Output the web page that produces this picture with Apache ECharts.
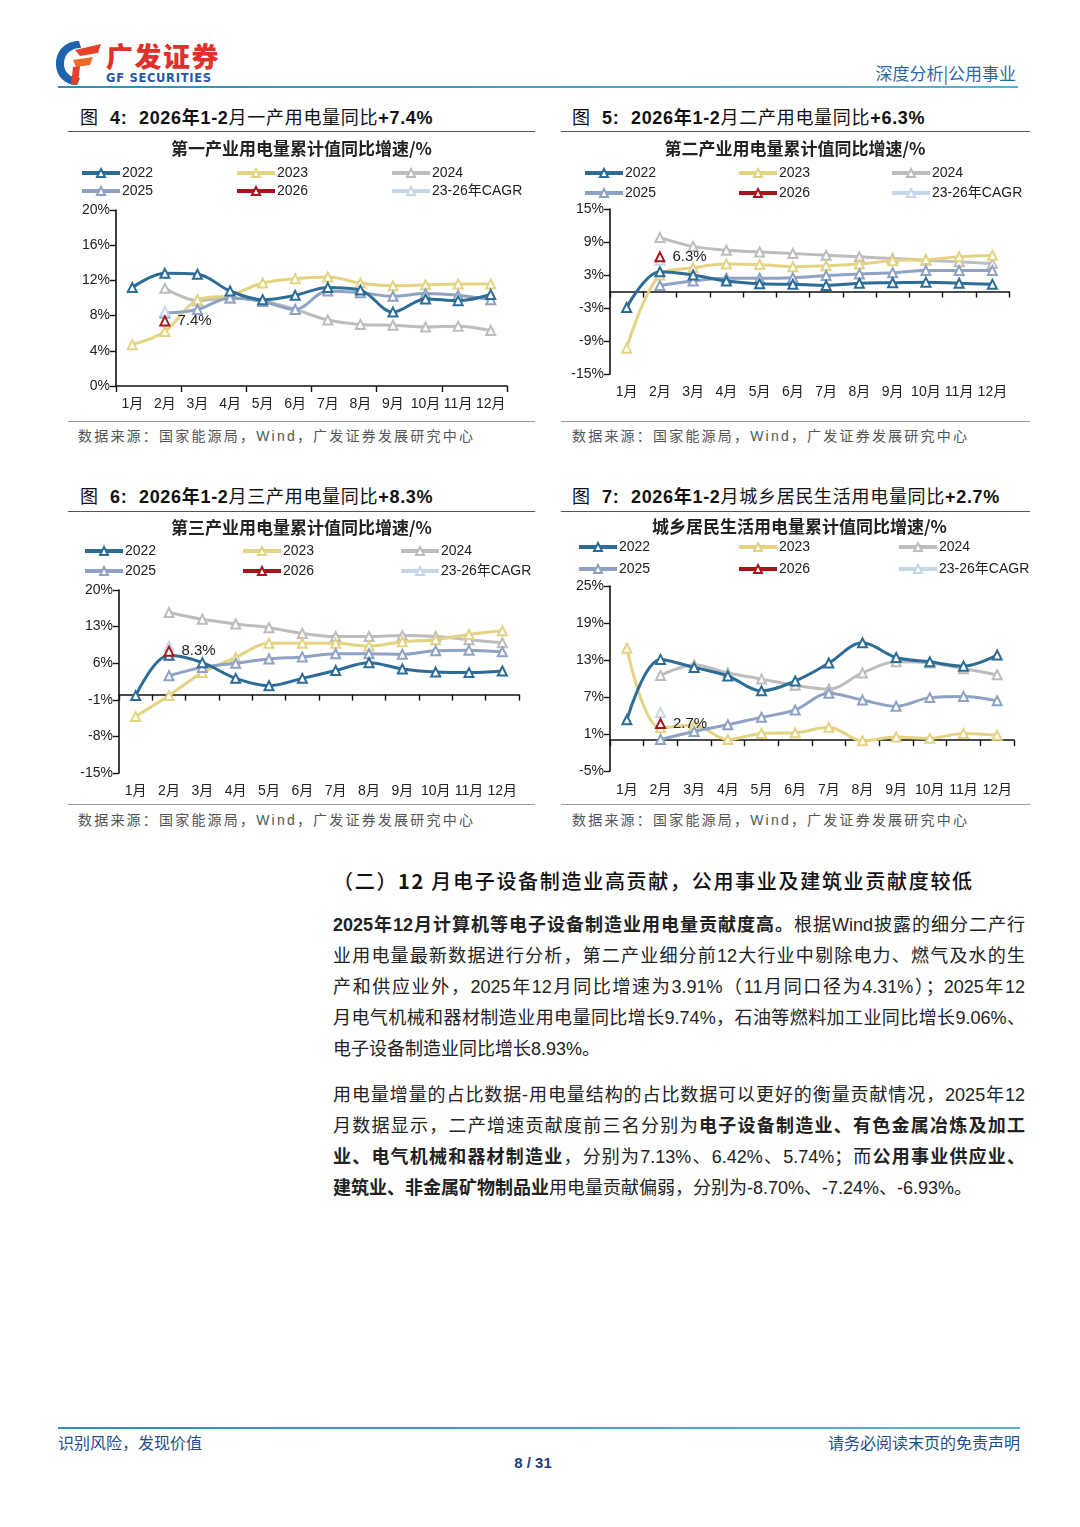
<!DOCTYPE html>
<html>
<head>
<meta charset="utf-8">
<script src="https://cdn.jsdelivr.net/npm/echarts@6/dist/echarts.min.js"></script>
<style>
html,body{margin:0;padding:0;background:#fff;}
#page{position:relative;width:1080px;height:1527px;overflow:hidden;background:#fff;font-family:"Liberation Sans","Noto Sans CJK SC",sans-serif;color:#222;}
.abs{position:absolute;}
.figt{position:absolute;font-size:18px;line-height:24px;white-space:nowrap;color:#111;letter-spacing:0.7px;}
.figt b{font-weight:700;}
.rule{position:absolute;height:0;border-top:1.5px solid #555;}
.srule{position:absolute;height:0;border-top:1px solid #9a9a9a;}
.src{position:absolute;font-size:14px;line-height:20px;color:#555;letter-spacing:2.2px;white-space:nowrap;}
.chart{position:absolute;}
.para{position:absolute;left:333px;width:692px;font-size:18px;color:#222;}
.para div{height:31px;line-height:31px;white-space:nowrap;text-align:justify;text-align-last:justify;}
.para div.last{text-align-last:left;}
.para b{font-weight:700;}
</style>
</head>
<body>
<div id="page">
  <!-- header -->
  <svg class="abs" style="left:53px;top:38px" width="52" height="50" viewBox="0 0 52 50">
    <path d="M26 3 C12 3 3 13 3 26 C3 38 12 47 24 47 L27 40 C17 40 11 34 11 26 C11 16 18 10 28 10 Z" fill="#1d63b0"/>
    <path d="M22 12 L48 6 L45 15 L27 18 Z" fill="#e8402a"/>
    <path d="M20 22 L40 19 L37 27 L23 29 Z" fill="#ef6a2a"/>
    <path d="M20 29 L27 28 L25 46 L18 47 Z" fill="#e8402a"/>
  </svg>
  <div class="abs" style="left:106px;top:40px;font-size:27px;font-weight:900;color:#e0302a;letter-spacing:1.5px;line-height:32px;font-family:'Noto Sans CJK SC';">广发证券</div>
  <div class="abs" style="left:106px;top:71px;font-size:11.5px;font-weight:900;color:#1d5aa8;letter-spacing:0.7px;line-height:14px;font-family:'DejaVu Sans';">GF SECURITIES</div>
  <div class="abs" style="right:64px;top:62px;font-size:17px;color:#2b6a9e;line-height:22px;font-family:'Noto Sans CJK SC';">深度分析|公用事业</div>
  <div class="abs" style="left:58px;top:86px;width:960px;height:2px;background:linear-gradient(90deg,#2f8fb8,#5cb3cf);"></div>

  <!-- figure 4 -->
  <div class="figt" style="left:80px;top:106px">图&nbsp; <b>4:</b>&nbsp; <b>2026年1-2</b>月一产用电量同比<b>+7.4%</b></div>
  <div class="rule" style="left:68px;top:131px;width:467px"></div>
  <div id="c1" class="chart" style="left:68px;top:135px;width:467px;height:285px"></div>
  <div class="srule" style="left:68px;top:421px;width:467px"></div>
  <div class="src" style="left:78px;top:426px">数据来源：国家能源局，Wind，广发证券发展研究中心</div>

  <!-- figure 5 -->
  <div class="figt" style="left:572px;top:106px">图&nbsp; <b>5:</b>&nbsp; <b>2026年1-2</b>月二产用电量同比<b>+6.3%</b></div>
  <div class="rule" style="left:561px;top:131px;width:469px"></div>
  <div id="c2" class="chart" style="left:560px;top:135px;width:470px;height:285px"></div>
  <div class="srule" style="left:561px;top:421px;width:469px"></div>
  <div class="src" style="left:572px;top:426px">数据来源：国家能源局，Wind，广发证券发展研究中心</div>

  <!-- figure 6 -->
  <div class="figt" style="left:80px;top:485px">图&nbsp; <b>6:</b>&nbsp; <b>2026年1-2</b>月三产用电量同比<b>+8.3%</b></div>
  <div class="rule" style="left:68px;top:511px;width:467px"></div>
  <div id="c3" class="chart" style="left:68px;top:513px;width:467px;height:289px"></div>
  <div class="srule" style="left:68px;top:804px;width:467px"></div>
  <div class="src" style="left:78px;top:810px">数据来源：国家能源局，Wind，广发证券发展研究中心</div>

  <!-- figure 7 -->
  <div class="figt" style="left:572px;top:485px">图&nbsp; <b>7:</b>&nbsp; <b>2026年1-2</b>月城乡居民生活用电量同比<b>+2.7%</b></div>
  <div class="rule" style="left:561px;top:511px;width:469px"></div>
  <div id="c4" class="chart" style="left:560px;top:513px;width:480px;height:289px"></div>
  <div class="srule" style="left:561px;top:804px;width:469px"></div>
  <div class="src" style="left:572px;top:810px">数据来源：国家能源局，Wind，广发证券发展研究中心</div>

  <!-- text -->
  <div class="abs" style="left:333px;top:866px;font-size:20px;line-height:30px;color:#111;letter-spacing:1.7px;white-space:nowrap;font-family:'Noto Sans CJK SC';font-weight:500;">（二）<b>12</b> 月电子设备制造业高贡献，公用事业及建筑业贡献度较低</div>

  <div class="para" style="top:910px">
    <div><b>2025年12月计算机等电子设备制造业用电量贡献度高。</b>根据Wind披露的细分二产行</div>
    <div>业用电量最新数据进行分析，第二产业细分前12大行业中剔除电力、燃气及水的生</div>
    <div>产和供应业外，2025年12月同比增速为3.91%（11月同口径为4.31%）；2025年12</div>
    <div>月电气机械和器材制造业用电量同比增长9.74%，石油等燃料加工业同比增长9.06%、</div>
    <div class="last">电子设备制造业同比增长8.93%。</div>
  </div>
  <div class="para" style="top:1080px">
    <div>用电量增量的占比数据-用电量结构的占比数据可以更好的衡量贡献情况，2025年12</div>
    <div>月数据显示，二产增速贡献度前三名分别为<b>电子设备制造业、有色金属冶炼及加工</b></div>
    <div><b>业、电气机械和器材制造业</b>，分别为7.13%、6.42%、5.74%；而<b>公用事业供应业、</b></div>
    <div class="last"><b>建筑业、非金属矿物制品业</b>用电量贡献偏弱，分别为-8.70%、-7.24%、-6.93%。</div>
  </div>

  <!-- footer -->
  <div class="abs" style="left:58px;top:1427px;width:962px;height:2px;background:linear-gradient(90deg,#2f8fb8,#5cb3cf);"></div>
  <div class="abs" style="left:58px;top:1431px;font-size:16px;line-height:22px;color:#1f4e8c;font-family:'Noto Sans CJK SC';">识别风险，发现价值</div>
  <div class="abs" style="right:60px;top:1431px;font-size:16px;line-height:22px;color:#1f4e8c;font-family:'Noto Sans CJK SC';">请务必阅读末页的免责声明</div>
  <div class="abs" style="left:0;width:1066px;text-align:center;top:1453px;font-size:15px;line-height:20px;font-weight:700;color:#1f3f7a;">8 / 31</div>
</div>

<script>
// ---------- data ----------
var months = ['1月','2月','3月','4月','5月','6月','7月','8月','9月','10月','11月','12月'];
var seriesNames = ['2022','2023','2024','2025','2026','23-26年CAGR'];

// Figure 4: primary industry
var p1_2022 = [11.2, 12.8, 12.7, 10.8, 9.8, 10.3, 11.2, 10.9, 8.4, 9.9, 9.7, 10.4];
var p1_2023 = [4.7, 6.2, 9.8, 10.3, 11.7, 12.2, 12.4, 11.7, 11.4, 11.5, 11.6, 11.6];
var p1_2024 = [null, 11.1, 9.7, 10.0, 9.7, 8.7, 7.5, 7.0, 6.9, 6.7, 6.8, 6.3];
var p1_2025 = [null, 8.3, 8.7, 10.0, 9.6, 8.7, 10.8, 10.6, 10.2, 10.5, 10.3, 9.8];
var p1_2026 = [null, 7.4, null, null, null, null, null, null, null, null, null, null];
var p1_cagr = [null, 8.5, null, null, null, null, null, null, null, null, null, null];

// Figure 5: secondary industry
var p2_2022 = [-2.9, 3.6, 3.0, 1.9, 1.4, 1.3, 1.1, 1.5, 1.6, 1.7, 1.5, 1.3];
var p2_2023 = [-10.3, 3.0, 4.3, 5.0, 4.9, 4.5, 4.7, 5.0, 5.6, 5.8, 6.3, 6.6];
var p2_2024 = [null, 9.8, 8.2, 7.5, 7.2, 6.9, 6.6, 6.3, 6.0, 5.7, 5.4, 5.1];
var p2_2025 = [null, 1.1, 1.9, 2.4, 2.4, 2.5, 2.9, 3.2, 3.4, 3.8, 3.8, 3.8];
var p2_2026 = [null, 6.3, null, null, null, null, null, null, null, null, null, null];
var p2_cagr = [null, 5.7, null, null, null, null, null, null, null, null, null, null];

// Figure 6: tertiary industry
var p3_2022 = [-0.2, 7.5, 6.1, 3.1, 1.7, 3.1, 4.6, 6.1, 4.9, 4.3, 4.2, 4.5];
var p3_2023 = [-4.2, -0.2, 4.2, 7.1, 9.8, 9.8, 9.8, 9.3, 10.1, 10.5, 11.5, 12.2];
var p3_2024 = [null, 15.7, 14.4, 13.5, 12.8, 11.7, 11.1, 11.1, 11.3, 11.1, 10.5, 9.9];
var p3_2025 = [null, 3.6, 5.2, 6.0, 6.8, 7.2, 7.8, 7.8, 7.7, 8.4, 8.5, 8.2];
var p3_2026 = [null, 8.3, null, null, null, null, null, null, null, null, null, null];
var p3_cagr = [null, 9.2, null, null, null, null, null, null, null, null, null, null];

// Figure 7: urban & rural residents
var p4_2022 = [3.3, 13.1, 11.8, 10.4, 8.0, 9.6, 12.5, 15.8, 13.4, 12.7, 12.0, 13.8];
var p4_2023 = [14.9, 2.0, 2.4, 0.1, 1.1, 1.2, 2.1, -0.1, 0.5, 0.3, 1.1, 0.8];
var p4_2024 = [null, 10.5, 12.2, 10.9, 9.9, 8.9, 8.3, 10.9, 12.7, 12.5, 11.6, 10.6];
var p4_2025 = [null, 0.1, 1.4, 2.5, 3.7, 4.9, 7.6, 6.5, 5.5, 6.9, 7.1, 6.4];
var p4_2026 = [null, 2.7, null, null, null, null, null, null, null, null, null, null];
var p4_cagr = [null, 4.5, null, null, null, null, null, null, null, null, null, null];

// axis tick labels
var yTicks1 = [0, 4, 8, 12, 16, 20];
var yTicks2 = [-15, -9, -3, 3, 9, 15];
var yTicks3 = [-15, -8, -1, 6, 13, 20];
var yTicks4 = [-5, 1, 7, 13, 19, 25];

var subtitles = ['第一产业用电量累计值同比增速/%','第二产业用电量累计值同比增速/%','第三产业用电量累计值同比增速/%','城乡居民生活用电量累计值同比增速/%'];

// ---------- styling ----------
var COLORS = {'2022':'#2c6c96','2023':'#e4d383','2024':'#bdbdbd','2025':'#8ea2c3','2026':'#a8151c','23-26年CAGR':'#c6d7e8'};
var Z = {'2022':6,'2023':4,'2024':2,'2025':5,'2026':9,'23-26年CAGR':8};
var FONT = '"Liberation Sans","Noto Sans CJK SC",sans-serif';

function mkSeries(name, data){
  var c = COLORS[name];
  var s = {
    name:name, type:'line', data:data, smooth:0.35,
    symbol:'emptyTriangle', symbolSize:9, showAllSymbol:true,
    lineStyle:{width:3,color:c}, itemStyle:{color:c, borderWidth:1.5},
    z:Z[name], xAxisIndex:0, yAxisIndex:0, animation:false
  };
  if(name==='2026'){
    s.label = {show:true, position:'right', distance:7, formatter:function(p){return p.value==null?'':p.value+'%';},
      fontSize:15, color:'#222', fontFamily:FONT};
  }
  return s;
}

function mkOption(cfg){
  var legends = [];
  var cols = [['2022','2025'],['2023','2026'],['2024','23-26年CAGR']];
  for(var i=0;i<3;i++){
    legends.push({
      data:cols[i], orient:'vertical', left:cfg.legLeft[i], top:cfg.legTop, padding:0,
      itemWidth:38, itemHeight:10, itemGap:cfg.legGap,
      lineStyle:{width:4},
      textStyle:{fontSize:14, color:'#222', fontFamily:FONT, padding:[0,0,0,-3]},
      selectedMode:false
    });
  }
  return {
    animation:false,
    textStyle:{fontFamily:FONT},
    title:{text:cfg.subtitle, top:cfg.titleTop, left:cfg.titleLeft,
      textStyle:{fontSize:17, fontWeight:'bold', color:'#222', fontFamily:'"Noto Sans CJK SC",sans-serif'}},
    legend:legends,
    grid:cfg.grid,
    xAxis:[
      {type:'category', data:months, position:'bottom', boundaryGap:true,
       axisLine:{show:false, onZero:false}, axisTick:{show:false},
       axisLabel:{show:true, margin:cfg.xMargin, fontSize:14, color:'#222', interval:0, fontFamily:FONT}},
      {type:'category', data:months, position:'bottom', boundaryGap:true,
       axisLine:{show:true, onZero:true, lineStyle:{color:'#111', width:1.6}},
       axisTick:{show:true, length:6, lineStyle:{color:'#111', width:1.4}},
       axisLabel:{show:false}}
    ],
    yAxis:{type:'value', min:cfg.ticks[0], max:cfg.ticks[cfg.ticks.length-1], interval:cfg.ticks[1]-cfg.ticks[0],
      axisLine:{show:true, lineStyle:{color:'#111', width:1.6}},
      axisTick:{show:true, length:6, lineStyle:{color:'#111', width:1.4}, customValues:cfg.ticks},
      splitLine:{show:false},
      axisLabel:{fontSize:14, color:'#222', margin:6, fontFamily:FONT, customValues:cfg.ticks,
        formatter:function(v){return v+'%';}}},
    series:[
      mkSeries('23-26年CAGR', cfg.d[5]),
      mkSeries('2024', cfg.d[2]),
      mkSeries('2023', cfg.d[1]),
      mkSeries('2025', cfg.d[3]),
      mkSeries('2022', cfg.d[0]),
      mkSeries('2026', cfg.d[4])
    ]
  };
}

var cfgs = [
  {el:'c1', subtitle:subtitles[0], titleTop:0, titleLeft:'center', legLeft:[12,167,322], legTop:31, legGap:4,
   grid:{left:48, right:28, top:75, bottom:34}, xMargin:11, ticks:yTicks1,
   d:[p1_2022,p1_2023,p1_2024,p1_2025,p1_2026,p1_cagr]},
  {el:'c2', subtitle:subtitles[1], titleTop:0, titleLeft:'center', legLeft:[23,177,330], legTop:31, legGap:6,
   grid:{left:50, right:21, top:74, bottom:46}, xMargin:11, ticks:yTicks2,
   d:[p2_2022,p2_2023,p2_2024,p2_2025,p2_2026,p2_cagr]},
  {el:'c3', subtitle:subtitles[2], titleTop:1, titleLeft:'center', legLeft:[15,173,331], legTop:31, legGap:6,
   grid:{left:51, right:16, top:77, bottom:29}, xMargin:11, ticks:yTicks3,
   d:[p3_2022,p3_2023,p3_2024,p3_2025,p3_2026,p3_cagr]},
  {el:'c4', subtitle:subtitles[3], titleTop:0, titleLeft:87, legLeft:[17,177,337], legTop:27, legGap:8,
   grid:{left:50, right:26, top:73, bottom:31}, xMargin:12, ticks:yTicks4,
   d:[p4_2022,p4_2023,p4_2024,p4_2025,p4_2026,p4_cagr]}
];

cfgs.forEach(function(cfg){
  var ch = echarts.init(document.getElementById(cfg.el), null, {renderer:'canvas'});
  ch.setOption(mkOption(cfg));
});
</script>
</body>
</html>
